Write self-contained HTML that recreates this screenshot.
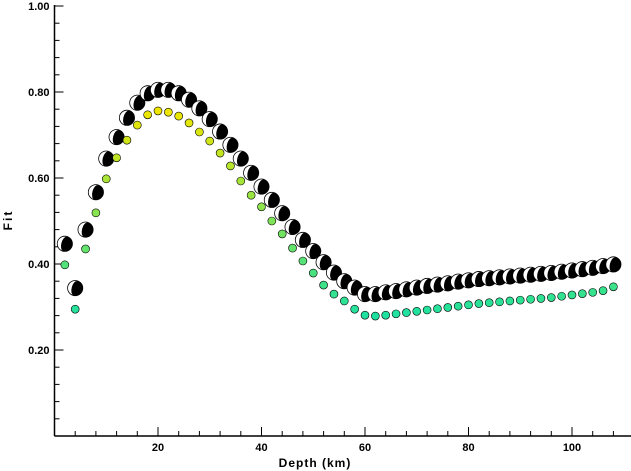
<!DOCTYPE html>
<html><head><meta charset="utf-8"><style>
body{margin:0;background:#fff}
svg{display:block;font-family:"Liberation Sans",sans-serif;font-weight:bold}
</style></head><body>
<svg id="c" width="631" height="471">
<g id="axes"></g>
<g id="marks"></g>
<text x="315" y="467" font-size="12" text-anchor="middle" letter-spacing="1">Depth (km)</text>
<text transform="translate(12,220) rotate(-90)" font-size="12" text-anchor="middle" letter-spacing="2">Fit</text>
</svg>
<script>
const depths=[2,4,6,8,10,12,14,16,18,20,22,24,26,28,30,32,34,36,38,40,42,44,46,48,50,52,54,56,58,60,62,64,66,68,70,72,74,76,78,80,82,84,86,88,90,92,94,96,98,100,102,104,106,108];
const fitBall=[0.447,0.344,0.48,0.567,0.645,0.695,0.74,0.775,0.797,0.805,0.805,0.797,0.782,0.762,0.737,0.708,0.677,0.645,0.612,0.58,0.549,0.518,0.486,0.456,0.43,0.404,0.38,0.36,0.345,0.33,0.33,0.334,0.337,0.341,0.345,0.349,0.352,0.355,0.359,0.362,0.365,0.367,0.369,0.371,0.373,0.375,0.377,0.379,0.382,0.385,0.388,0.391,0.395,0.399];
const fitDot=[0.398,0.295,0.435,0.519,0.598,0.647,0.688,0.723,0.747,0.756,0.753,0.744,0.728,0.707,0.686,0.658,0.628,0.593,0.56,0.533,0.5,0.47,0.437,0.407,0.379,0.351,0.33,0.314,0.295,0.281,0.279,0.281,0.284,0.287,0.29,0.293,0.296,0.299,0.302,0.305,0.308,0.31,0.312,0.314,0.316,0.318,0.32,0.322,0.325,0.328,0.331,0.334,0.338,0.347];
const xTicks=[20,40,60,80,100];
const yTicks=[0.2,0.4,0.6,0.8,1.0];
const NS='http://www.w3.org/2000/svg';
const X0=54.5,PX=5.175,Y0=436,PY=430;
const sx=d=>X0+d*PX, sy=v=>Y0-v*PY;
function mk(tag,at,parent){const e=document.createElementNS(NS,tag);for(const k in at)e.setAttribute(k,at[k]);parent.appendChild(e);return e;}
const ax=document.getElementById('axes'),mg=document.getElementById('marks');
let l=mk('line',{x1:X0,y1:Y0,x2:631,y2:Y0,stroke:'#000','stroke-width':1.5},ax);


l=mk('line',{x1:X0,y1:Y0,x2:X0,y2:5,stroke:'#000','stroke-width':1.5},ax);


for(let d=4;d<=110;d+=4){const maj=d%20===0;mk('line',{x1:sx(d),y1:Y0,x2:sx(d),y2:Y0-(maj?9:5),stroke:'#000'},ax);}
for(let v=0.04;v<=1.001;v+=0.04){const maj=Math.abs(v*5-Math.round(v*5))<1e-6;mk('line',{x1:X0,y1:sy(v),x2:X0+(maj?9:5),y2:sy(v),stroke:'#000'},ax);}
xTicks.forEach(t=>{const e=mk('text',{x:sx(t),y:Y0+15,'font-size':11,'text-anchor':'middle'},ax);e.textContent=t;

});
yTicks.forEach(t=>{const e=mk('text',{x:X0-5,y:sy(t)+4,'font-size':11,'text-anchor':'end'},ax);e.textContent=t.toFixed(2);

});
function dotColor(v){const t=Math.max(0,Math.min(1,(v-0.28)/(0.76-0.28)));const r=Math.round(30+t*210),g=Math.round(225+t*5),b=Math.round(160-t*160);return `rgb(${r},${g},${b})`;}
depths.forEach((d,i)=>{
 const c=mk('circle',{cx:sx(d),cy:sy(fitDot[i]),r:4,fill:dotColor(fitDot[i]),stroke:'#000','stroke-width':0.6},mg);
 
 
 const g=mk('g',{transform:`translate(${sx(d)},${sy(fitBall[i])})`},mg);
 
 
 mk('circle',{r:7.5,fill:'#000',stroke:'#000','stroke-width':1},g);
 mk('path',{d:'M0,-7.2 A7.2,7.2 0 0 0 0,7.2 A3.5,7.2 0 0 1 0,-7.2Z',fill:'#fff',transform:'rotate(15)'},g);
});
</script>
</body></html>
